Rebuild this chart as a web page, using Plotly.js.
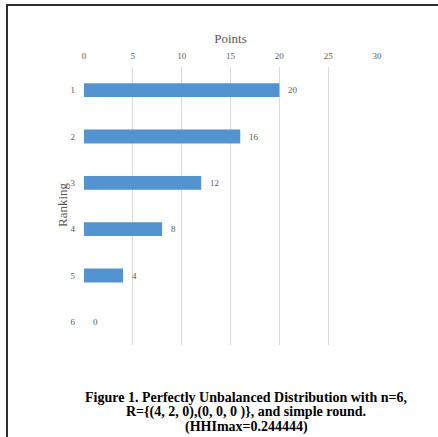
<!DOCTYPE html>
<html><head><meta charset="utf-8">
<script src="https://cdn.plot.ly/plotly-3.0.1.min.js"></script>
<style>
html,body{margin:0;padding:0;background:#fff;}
#wrap{position:relative;width:438px;height:437px;}
#chart{width:438px;height:437px;}
#frame{position:absolute;left:6px;top:4px;width:440px;height:440px;border-top:2.5px solid #2e2e2e;border-left:2.5px solid #2e2e2e;pointer-events:none;box-sizing:border-box;}
</style></head>
<body>
<div id="wrap"><div id="chart"></div><div id="frame"></div></div>
<script>
const rankings = ['1','2','3','4','5','6'];
const points = [20, 16, 12, 8, 4, 0];
const xTicks = [0, 5, 10, 15, 20, 25, 30];
const captionLines = [
  'Figure 1. Perfectly Unbalanced Distribution with n=6,',
  'R={(4, 2, 0),(0, 0, 0 )}, and simple round.',
  '(HHImax=0.244444)'
];

const font = 'Liberation Serif, Times New Roman, serif';
const plotW = 377 - 84;
const plotH = 437 - 67 - 92;

const annotations = rankings.map((r, i) => ({
  x: points[i], y: i, xref: 'x', yref: 'y', text: String(points[i]),
  showarrow: false, xanchor: 'left', xshift: 7,
  font: {family: font, size: 9, color: '#595959'}
}));
const capY = [397, 412, 427];
captionLines.forEach((t, i) => {
  annotations.push({
    x: (246 - 84) / plotW, xref: 'paper', y: -(capY[i] - 345) / plotH, yref: 'paper',
    text: '<b>' + t + '</b>', showarrow: false, xanchor: 'center', yanchor: 'middle',
    font: {family: font, size: 14, color: '#000'}
  });
});
annotations.push({
  x: -(84 - 62) / plotW, xref: 'paper', y: (345 - 205) / plotH, yref: 'paper',
  text: 'Ranking', textangle: -90, showarrow: false, xanchor: 'center', yanchor: 'middle',
  font: {family: font, size: 13, color: '#595959'}
});

Plotly.newPlot('chart', [{
  type: 'bar', orientation: 'h', x: points, y: rankings,
  width: 0.3,
  marker: {color: '#5393d0', line: {width: 0}},
  hoverinfo: 'none'
}], {
  width: 438, height: 437,
  margin: {l: 84, r: 61, t: 67, b: 92},
  paper_bgcolor: '#fff', plot_bgcolor: '#fff',
  showlegend: false,
  font: {family: font},
  xaxis: {
    side: 'top', range: [0, 30], tickvals: xTicks, ticktext: xTicks.map(String),
    showgrid: true, gridcolor: '#d9d9d9', gridwidth: 1.3, zeroline: false,
    showline: false, ticks: '', ticklabelstandoff: 5,
    tickfont: {family: font, size: 9, color: '#595959'},
    title: {text: 'Points', font: {family: font, size: 13, color: '#595959'}, standoff: 4}
  },
  yaxis: {
    type: 'category', autorange: false, range: [5.5, -0.5],
    showgrid: false, zeroline: false, showline: false, ticks: '', ticklabelstandoff: 8,
    tickfont: {family: font, size: 9, color: '#595959'}
  },
  annotations: annotations
}, {staticPlot: true});
</script>
</body></html>
